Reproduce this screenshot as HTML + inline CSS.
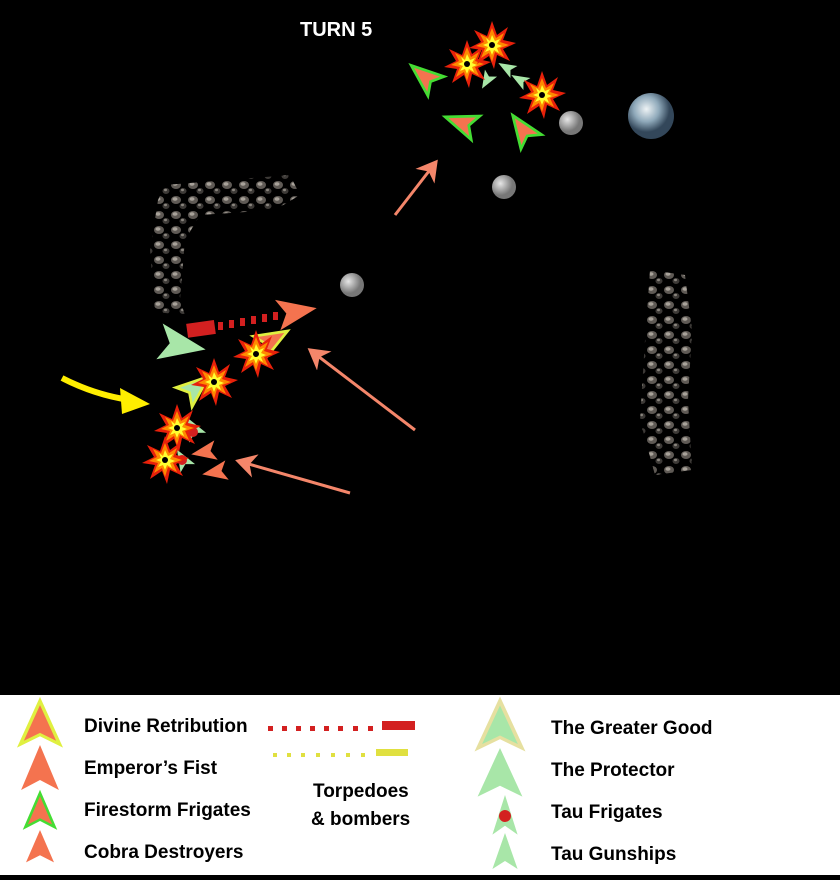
<!DOCTYPE html>
<html><head><style>
body{margin:0;width:840px;height:875px;overflow:hidden;background:#000;font-family:"Liberation Sans",Arial,sans-serif}
</style></head><body>
<svg width="840" height="875" viewBox="0 0 840 875" xmlns="http://www.w3.org/2000/svg">
<defs>
<polygon id="ship" points="0,-20 14,16 0,8 -14,16"/>
<g id="boom">
<polygon points="0,-24 5,-10 16,-18 11,-5 24,-2 11,4 18,16 5,10 2,24 -3,11 -15,19 -10,5 -23,3 -11,-3 -18,-15 -5,-9" fill="#e8200a"/>
<polygon points="0,-17 4,-7 12,-12 8,-3 17,0 8,3 12,12 3,7 0,17 -3,8 -11,13 -7,3 -16,1 -8,-3 -12,-11 -4,-7" fill="#ff8a00"/>
<polygon points="0,-10 3,-4 8,-6 5,-1 10,1 5,3 7,8 2,5 0,10 -2,5 -7,7 -4,2 -9,0 -4,-2 -6,-7 -2,-4" fill="#ffff30"/>
<circle r="3" fill="#000"/>
</g>
<radialGradient id="rock" cx="0.35" cy="0.35"><stop offset="0" stop-color="#e6e6e6"/><stop offset="1" stop-color="#777"/></radialGradient>
<radialGradient id="earth" cx="0.4" cy="0.35"><stop offset="0" stop-color="#eef3f5"/><stop offset="0.55" stop-color="#8fa9ba"/><stop offset="1" stop-color="#33475a"/></radialGradient>
<pattern id="ast" width="17" height="15" patternUnits="userSpaceOnUse"><ellipse cx="6" cy="5" rx="5" ry="4" fill="#5f5a55"/><ellipse cx="5" cy="4" rx="2.5" ry="1.8" fill="#a8a29a"/><ellipse cx="13" cy="11" rx="3.5" ry="3" fill="#3d3a37"/><ellipse cx="12.5" cy="10" rx="1.5" ry="1.2" fill="#8a857e"/></pattern>
<marker id="ah" markerWidth="8" markerHeight="8" refX="6" refY="4" orient="auto" markerUnits="strokeWidth"><path d="M0,0 L7,4 L0,8 L2,4z" fill="#f4866a"/></marker>
</defs>
<text x="300" y="36" fill="#fff" font-size="20" font-weight="bold">TURN 5</text>
<path d="M165,185 L290,175 L300,195 L275,210 L200,215 L185,240 L180,300 L185,315 L155,312 L150,250 L158,200Z" fill="url(#ast)"/>
<path d="M650,270 L685,275 L692,330 L688,400 L692,470 L655,475 L640,420 L645,340Z" fill="url(#ast)"/>
<circle cx="651" cy="116" r="23" fill="url(#earth)"/>
<circle cx="571" cy="123" r="12" fill="url(#rock)"/>
<circle cx="504" cy="187" r="12" fill="url(#rock)"/>
<circle cx="352" cy="285" r="12" fill="url(#rock)"/>
<g stroke="#f4866a" stroke-width="3" fill="none" marker-end="url(#ah)">
<line x1="395" y1="215" x2="436" y2="162"/>
<line x1="415" y1="430" x2="310" y2="350"/>
<line x1="350" y1="493" x2="238" y2="461"/>
</g>
<path d="M62,378 Q95,395 130,400" stroke="#ffee00" stroke-width="6" fill="none"/>
<polygon points="120,388 150,404 122,414" fill="#ffee00"/>
<g fill="#f4734f" stroke="#44dd33" stroke-width="3">
<use href="#ship" transform="translate(425,77) rotate(-50) scale(0.9)"/>
<use href="#ship" transform="translate(462,123) rotate(-70) scale(0.9)"/>
<use href="#ship" transform="translate(523,130) rotate(-35) scale(0.9)"/>
</g>
<g fill="#a8e6a8">
<use href="#ship" transform="translate(487,80) rotate(-150) scale(0.5)"/>
<use href="#ship" transform="translate(507,68) rotate(-60) scale(0.5)"/>
<use href="#ship" transform="translate(520,80) rotate(-60) scale(0.5)"/>
</g>
<use href="#boom" transform="translate(467,64)"/>
<use href="#boom" transform="translate(492,45)"/>
<use href="#boom" transform="translate(542,95)"/>
<rect x="187" y="322" width="28" height="14" fill="#d32020" transform="rotate(-8 200 329)"/>
<g fill="#d32020">
<rect x="218" y="322" width="5" height="8"/><rect x="229" y="320" width="5" height="8"/><rect x="240" y="318" width="5" height="8"/><rect x="251" y="316" width="5" height="8"/><rect x="262" y="314" width="5" height="8"/><rect x="273" y="312" width="5" height="8"/>
</g>
<use href="#ship" transform="translate(295,312) rotate(80) scale(1.1)" fill="#f4734f"/>
<use href="#ship" transform="translate(272,340) rotate(60) scale(0.9)" fill="#f4734f" stroke="#e0f040" stroke-width="3"/>
<use href="#ship" transform="translate(180,345) rotate(100) scale(1.3)" fill="#a8e6a8"/>
<use href="#ship" transform="translate(195,388) rotate(50) scale(0.9)" fill="#a8e6a8" stroke="#e0f040" stroke-width="3"/>
<g fill="#a8e6a8"><use href="#ship" transform="translate(192,428) rotate(-30) scale(0.7)"/><use href="#ship" transform="translate(183,460) rotate(-30) scale(0.6)"/></g>
<circle cx="193" cy="432" r="5" fill="#d32020"/><circle cx="182" cy="460" r="5" fill="#d32020"/>
<g fill="#f4734f"><use href="#ship" transform="translate(205,452) rotate(-100) scale(0.7)"/><use href="#ship" transform="translate(216,472) rotate(-100) scale(0.7)"/></g>
<use href="#boom" transform="translate(256,354)"/>
<use href="#boom" transform="translate(214,382)"/>
<use href="#boom" transform="translate(177,428)"/>
<use href="#boom" transform="translate(165,460)"/>
<!-- legend -->
<rect x="0" y="695" width="840" height="180" fill="#fff"/>
<use href="#ship" transform="translate(40,725) scale(1.4,1.2)" fill="#f4734f" stroke="#e0f040" stroke-width="2.5"/>
<use href="#ship" transform="translate(40,770) scale(1.35,1.25)" fill="#f4734f"/>
<use href="#ship" transform="translate(40,812) scale(1.05,0.95)" fill="#f4734f" stroke="#44dd33" stroke-width="2.5"/>
<use href="#ship" transform="translate(40,848) scale(1.0,0.9)" fill="#f4734f"/>
<use href="#ship" transform="translate(500,727) scale(1.55,1.3)" fill="#a8e6a8" stroke="#e6e0a0" stroke-width="2.5"/>
<use href="#ship" transform="translate(500,775) scale(1.6,1.35)" fill="#a8e6a8"/>
<use href="#ship" transform="translate(505,817) scale(0.9,1.1)" fill="#a8e6a8"/>
<circle cx="505" cy="816" r="6" fill="#d32020"/>
<use href="#ship" transform="translate(505,853) scale(0.9,1.0)" fill="#a8e6a8"/>
<g fill="#d32020"><rect x="268" y="726" width="5" height="5"/><rect x="282" y="726" width="5" height="5"/><rect x="296" y="726" width="5" height="5"/><rect x="310" y="726" width="5" height="5"/><rect x="324" y="726" width="5" height="5"/><rect x="338" y="726" width="5" height="5"/><rect x="353" y="726" width="5" height="5"/><rect x="368" y="726" width="5" height="5"/><rect x="382" y="721" width="33" height="9"/></g>
<g fill="#e0e040"><rect x="273" y="753" width="4" height="4"/><rect x="287" y="753" width="4" height="4"/><rect x="301" y="753" width="4" height="4"/><rect x="316" y="753" width="4" height="4"/><rect x="331" y="753" width="4" height="4"/><rect x="346" y="753" width="4" height="4"/><rect x="361" y="753" width="4" height="4"/><rect x="376" y="749" width="32" height="7"/></g>
<g font-size="19" font-weight="bold" fill="#000">
<text x="84" y="732">Divine Retribution</text>
<text x="84" y="774">Emperor’s Fist</text>
<text x="84" y="816">Firestorm Frigates</text>
<text x="84" y="858">Cobra Destroyers</text>
<text x="313" y="797">Torpedoes</text>
<text x="311" y="825">&amp; bombers</text>
<text x="551" y="734">The Greater Good</text>
<text x="551" y="776">The Protector</text>
<text x="551" y="818">Tau Frigates</text>
<text x="551" y="860">Tau Gunships</text>
</g>
</svg>
</body></html>
